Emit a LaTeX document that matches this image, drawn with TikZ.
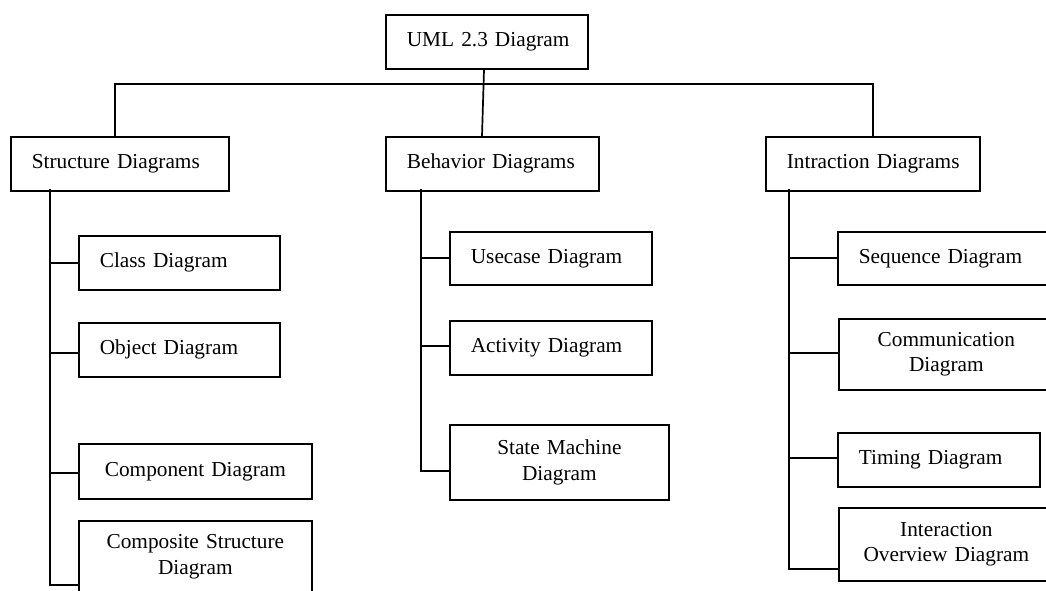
\documentclass[tikz,border=0pt]{standalone}
\usepackage{fontspec}
\setmainfont{Liberation Serif}
\newcommand{\lpad}[1]{\hspace*{21pt}#1}
\begin{document}
\begin{tikzpicture}[x=1pt,y=-1pt,
  box/.style={draw, line width=1.7pt, inner xsep=0pt, inner ysep=0pt,
    font=\fontsize{21.3}{25.5}\selectfont, anchor=north west},
  lbox/.style={box, align=left},
  cbox/.style={box, align=center},
  conn/.style={line width=1.7pt, line cap=rect}]
\useasboundingbox (0,0) rectangle (1046,590);
\clip (0,0) rectangle (1046,590);
% top
\node[lbox, text width=202pt, minimum height=54pt] (uml) at (385,14) {\lpad{UML 2.3 Diagram}};
% level 1
\node[lbox, text width=218pt, minimum height=54pt] (str) at (10,136) {\lpad{Structure Diagrams}};
\node[lbox, text width=213pt, minimum height=54pt] (beh) at (385,136) {\lpad{Behavior Diagrams}};
\node[lbox, text width=214pt, minimum height=54pt] (int) at (765,136) {\lpad{Intraction Diagrams}};
% structure children
\node[lbox, text width=201pt, minimum height=54pt] (cls) at (78,235) {\lpad{Class Diagram}};
\node[lbox, text width=201pt, minimum height=54pt] (obj) at (78,322) {\lpad{Object Diagram}};
\node[cbox, text width=233pt, minimum height=55pt] (cmpn) at (78,443) {Component Diagram};
\node[cbox, text width=233pt, minimum height=72pt] (cmps) at (78,520) {Composite Structure\\Diagram};
% behavior children
\node[lbox, text width=202pt, minimum height=53pt] (use) at (449,231) {\lpad{Usecase Diagram}};
\node[lbox, text width=202pt, minimum height=54pt] (act) at (449,320) {\lpad{Activity Diagram}};
\node[cbox, text width=219pt, minimum height=75pt] (stm) at (449,424) {State Machine\\Diagram};
% interaction children
\node[lbox, text width=232pt, minimum height=53pt] (seq) at (837,231) {\lpad{Sequence Diagram}};
\node[cbox, text width=215pt, minimum height=71pt] (com) at (838,318) {Communication\\Diagram};
\node[lbox, text width=202pt, minimum height=54pt] (tim) at (837,432) {\lpad{Timing Diagram}};
\node[cbox, text width=215pt, minimum height=73pt] (iov) at (838,507) {Interaction\\Overview Diagram};
% bus
\coordinate (busL) at (115,84);
\coordinate (busR) at (873,84);
\draw[conn] (uml.south -| 484,0) -- (beh.north -| 482,0);
\draw[conn] (str.north -| busL) -- (busL) -- (busR) -- (int.north -| busR);
% structure trunk
\coordinate (sT) at (50,190);
\coordinate (sE) at (50,585);
\draw[conn] (sT) -- (sE) -- (sE -| cmps.west);
\draw[conn] (cls.west) -- (cls.west -| sT);
\draw[conn] (obj.west |- 0,353) -- (50,353);
\draw[conn] (cmpn.west |- 0,473) -- (50,473);
% behavior trunk
\coordinate (bT) at (421,190);
\coordinate (bE) at (421,471);
\draw[conn] (bT) -- (bE) -- (bE -| stm.west);
\draw[conn] (use.west |- 0,258) -- (421,258);
\draw[conn] (act.west |- 0,346) -- (421,346);
% interaction trunk
\coordinate (iT) at (789,190);
\coordinate (iE) at (789,569);
\draw[conn] (iT) -- (iE) -- (iE -| iov.west);
\draw[conn] (seq.west |- 0,258) -- (789,258);
\draw[conn] (com.west |- 0,353) -- (789,353);
\draw[conn] (tim.west |- 0,458) -- (789,458);
\end{tikzpicture}
\end{document}
